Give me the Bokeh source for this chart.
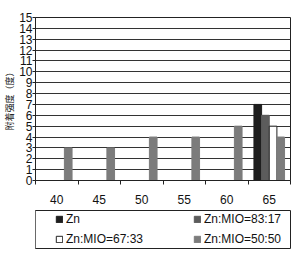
from bokeh.plotting import figure
from bokeh.layouts import column
from bokeh.models import ColumnDataSource, FixedTicker, Legend, LegendItem, Range1d
from bokeh.embed import file_html
from bokeh.resources import INLINE

categories = ["40", "45", "50", "55", "60", "65"]
series_names = ["Zn", "Zn:MIO=83:17", "Zn:MIO=67:33", "Zn:MIO=50:50"]
zn = [0, 0, 0, 0, 0, 7]
mio_83_17 = [0, 0, 0, 0, 0, 6]
mio_67_33 = [0, 0, 0, 0, 0, 5]
mio_50_50 = [3, 3, 4, 4, 5, 4]
y_label = "附着强度（度）"

series_values = [zn, mio_83_17, mio_67_33, mio_50_50]
fills = ["#1e1e1e", "#5c5c5c", "#ffffff", "#7c7c7c"]
offsets = [-0.27, -0.09, 0.09, 0.27]
bar_w = 0.18
# legend grid slot (column, row) for each series
legend_slots = [(0, 0), (1, 0), (0, 1), (1, 1)]

FONT = "Liberation Sans"

p = figure(width=303, height=206, output_backend="svg", toolbar_location=None,
           x_range=Range1d(0, len(categories)), y_range=Range1d(0, 15),
           min_border_left=0, min_border_right=10, min_border_top=17, min_border_bottom=25)
p.background_fill_color = "white"
p.border_fill_color = "white"
p.outline_line_color = "#222222"
p.outline_line_width = 1

# legend-only panel below the chart
lg = figure(width=303, height=48, output_backend="svg", toolbar_location=None,
            x_range=Range1d(0, 1), y_range=Range1d(0, 1),
            min_border_left=33, min_border_right=13, min_border_top=4, min_border_bottom=6)
lg.axis.visible = False
lg.grid.visible = False
lg.outline_line_color = "#222222"
lg.outline_line_width = 1
lg.border_fill_color = "white"

leg_style = dict(label_text_font=FONT, label_text_font_size="12px", label_text_color="#111111",
                 glyph_width=8, glyph_height=8, spacing=0,
                 border_line_color=None, background_fill_alpha=0,
                 padding=0, margin=0, label_standoff=3, label_height=14)

centers = [i + 0.5 for i in range(len(categories))]
for name, vals, col, off, (cx, cy) in zip(series_names, series_values, fills, offsets, legend_slots):
    lc = "#222222" if col == "#ffffff" else col
    src = ColumnDataSource(dict(x=[c + off for c in centers], top=vals))
    p.vbar(x="x", top="top", width=bar_w, source=src, fill_color=col,
           line_color=lc, line_width=1)
    r = lg.vbar(x=[-5], top=[1], width=0.1, fill_color=col, line_color=lc, line_width=1)
    leg = Legend(items=[LegendItem(label=name, renderers=[r])],
                 location=(20 + 138 * cx, 22 - 20 * cy), **leg_style)
    lg.add_layout(leg, "center")

# axes
p.xaxis.ticker = FixedTicker(ticks=centers, minor_ticks=list(range(len(categories) + 1)))
p.xaxis.major_label_overrides = {c: lab for c, lab in zip(centers, categories)}
p.xaxis.major_tick_line_color = None
p.xaxis.minor_tick_line_color = "#222222"
p.xaxis.minor_tick_out = 4
p.xaxis.minor_tick_in = 0
p.xaxis.axis_line_color = "#222222"
p.xaxis.major_label_text_font = FONT
p.xaxis.major_label_text_font_size = "12px"
p.xaxis.major_label_text_color = "#111111"
p.xaxis.major_label_standoff = 8

p.yaxis.ticker = FixedTicker(ticks=list(range(0, 16)))
p.yaxis.minor_tick_line_color = None
p.yaxis.major_tick_out = 3
p.yaxis.major_tick_in = 0
p.yaxis.axis_line_color = "#222222"
p.yaxis.major_tick_line_color = "#222222"
p.yaxis.major_label_text_font = FONT
p.yaxis.major_label_text_font_size = "12px"
p.yaxis.major_label_text_color = "#111111"
p.yaxis.major_label_standoff = 0
p.yaxis.axis_label = y_label
p.yaxis.axis_label_text_font = "Noto Sans CJK SC"
p.yaxis.axis_label_text_font_style = "normal"
p.yaxis.axis_label_text_font_size = "9px"
p.yaxis.axis_label_text_color = "#111111"
p.yaxis.axis_label_standoff = 0

p.xgrid.grid_line_color = None
p.ygrid.ticker = FixedTicker(ticks=list(range(0, 16)))
p.ygrid.grid_line_color = "#333333"
p.ygrid.grid_line_width = 1

layout = column(p, lg, spacing=0)
open("out.html", "w").write(file_html(layout, INLINE))
